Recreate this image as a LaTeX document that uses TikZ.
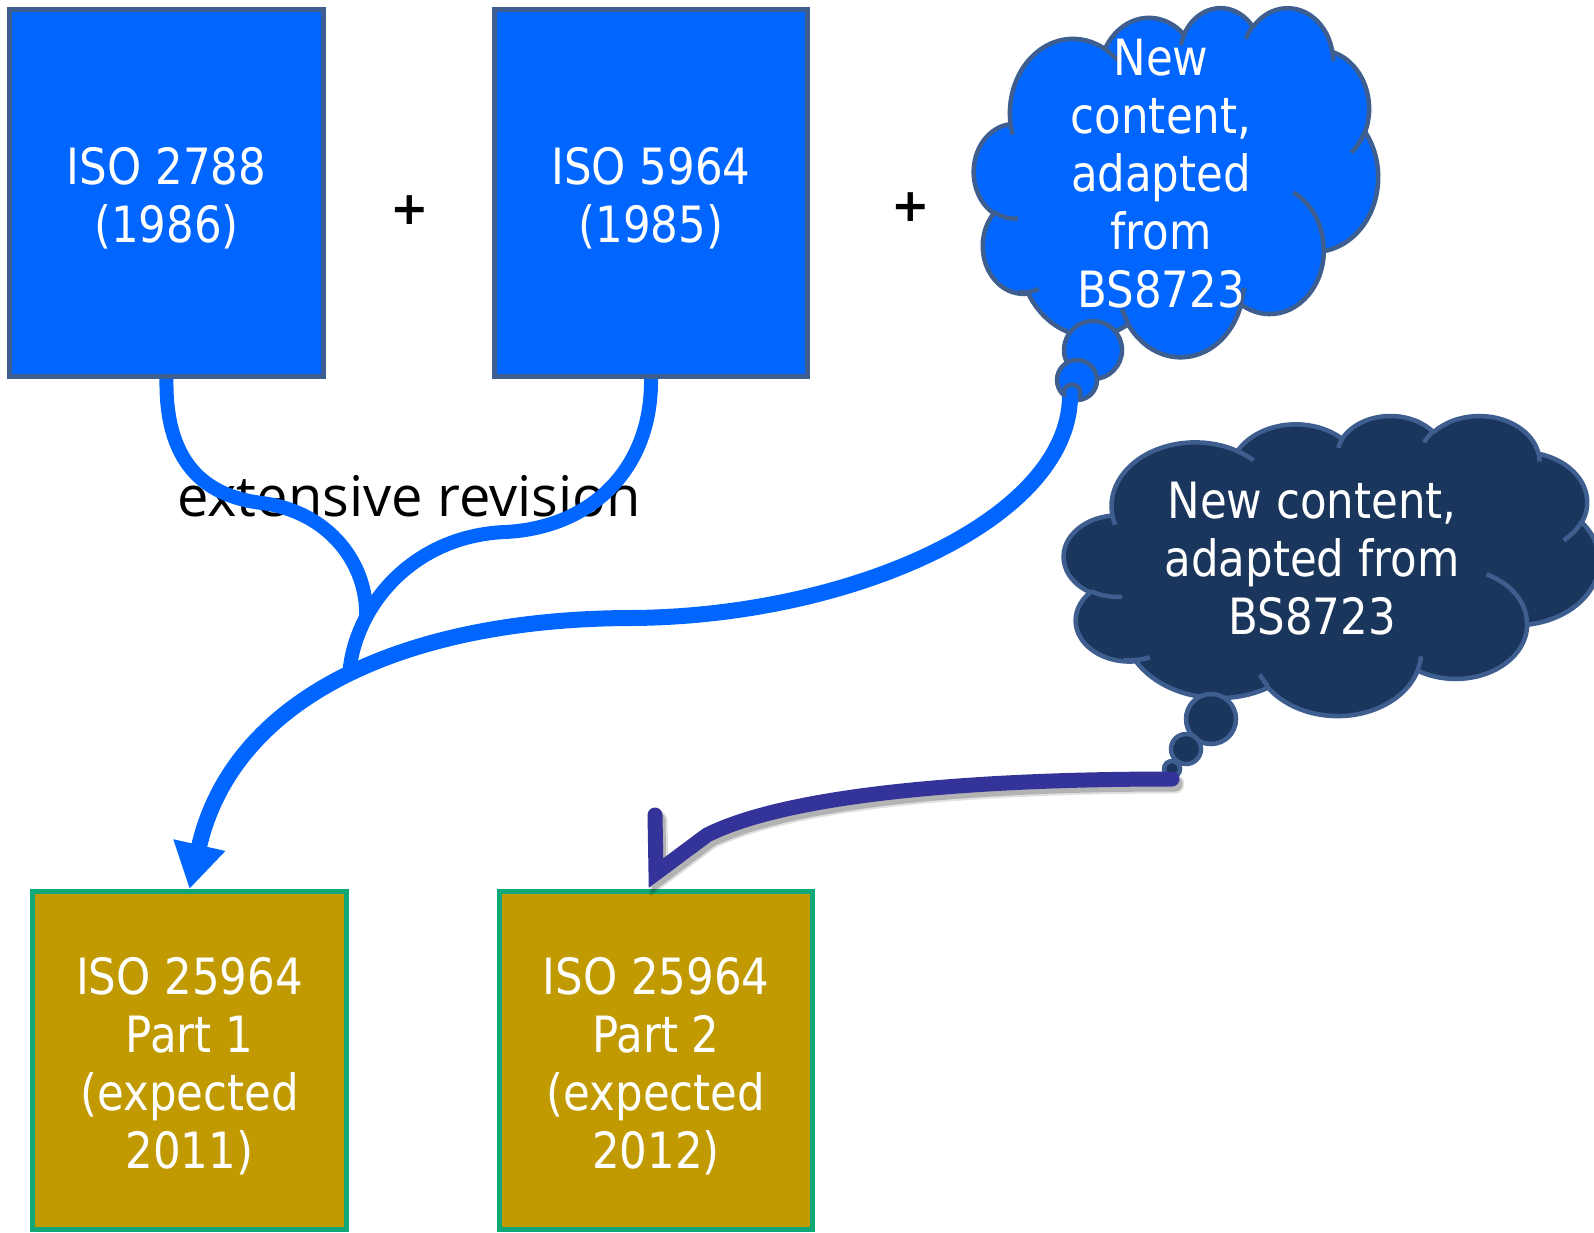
\documentclass[tikz,border=0pt]{standalone}
\usepackage{fontspec}
\usetikzlibrary{arrows.meta}
\newfontfamily\boxfont[FakeStretch=0.87]{DejaVu Sans}
\newfontfamily\plusfont{DejaVu Sans}
\newfontfamily\notefont{Open Sans}
\definecolor{stdblue}{RGB}{0,102,255}
\definecolor{edgeblue}{RGB}{61,94,143}
\definecolor{deepnavy}{RGB}{27,54,93}
\definecolor{oldgold}{RGB}{192,154,0}
\definecolor{edgegreen}{RGB}{16,168,120}
\definecolor{arrowviolet}{RGB}{51,51,153}
\begin{document}
\begin{tikzpicture}[x=1pt, y=-1pt,
  % elliptical lobe: radii and visual start/sweep angles (y pointing down)
  declare function={
    pang(\angA,\rw,\rh)=atan2(\rw*sin(\angA),\rh*cos(\angA));
    dang(\angA,\swp,\rw,\rh)=pang(\angA+\swp,\rw,\rh)-pang(\angA,\rw,\rh)
      +360*round((\swp-pang(\angA+\swp,\rw,\rh)+pang(\angA,\rw,\rh))/360);
  },
  lobe/.style n args={4}{insert path={
    arc[start angle={-pang(#3,#1,#2)}, delta angle={-dang(#3,#4,#1,#2)},
        x radius={#1*\csx pt}, y radius={#2*\csy pt}]}},
  stdbox/.style={rectangle, inner sep=0pt, line width=5pt},
  oldbox/.style={stdbox, fill=stdblue, draw=edgeblue},
  newbox/.style={stdbox, fill=oldgold, draw=edgegreen},
  boxtext/.style={text=white, align=center, inner sep=0pt,
    font=\boxfont\fontsize{50}{58}\selectfont},
  plussign/.style={inner sep=0pt, font=\plusfont\bfseries\fontsize{46}{50}\selectfont},
  bubble/.style={line width=4.5pt},
  flow/.style={draw=stdblue, line width=14pt},
  mainflow/.style={draw=stdblue, line width=16pt},
  partflow/.style={draw=arrowviolet, line width=15pt, line cap=round, miter limit=10},
]
\useasboundingbox (0,0) rectangle (1594,1232);
\fill[white] (0,0) rectangle (1594,1232);

% source standards
\node[oldbox, minimum width=314pt, minimum height=367pt] (box1) at (166.5,193) {};
\node[oldbox, minimum width=313pt, minimum height=367pt] (box2) at (651,193) {};
\node[boxtext] (box1txt) at (166.5,198) {ISO 2788\\(1986)};
\node[boxtext] (box2txt) at (651,198) {ISO 5964\\(1985)};
\node[plussign] (plus1) at (410,210) {+};
\node[plussign] (plus2) at (911,207) {+};

% resulting parts
\node[newbox, minimum width=314pt, minimum height=338pt] (box3) at (189.5,1060.5) {};
\node[newbox, minimum width=313pt, minimum height=338pt] (box4) at (656,1060.5) {};
\node[boxtext] (box3txt) at (189.5,1066) {ISO 25964\\Part 1\\(expected\\2011)};
\node[boxtext] (box4txt) at (656,1066) {ISO 25964\\Part 2\\(expected\\2012)};

% thought cloud outline and inner creases (43200-unit grid, scaled by 1/100)
\newcommand\cloudbody[2]{%
  \path[fill=#1, draw=#2, line width=4.5pt, line join=round]
    (39.00,143.70)
    [lobe={67.53}{91.90}{-190.48748}{123.78053}]
    [lobe={53.33}{72.67}{-144.10238}{89.94523}]
    [lobe={43.65}{59.45}{-145.80792}{99.72302}]
    [lobe={48.57}{65.95}{-130.98607}{117.24173}]
    [lobe={53.33}{72.73}{-78.70888}{109.02692}]
    [lobe={67.75}{92.20}{-46.26725}{130.269}]
    [lobe={57.85}{78.67}{0.62502}{114.03333}]
    [lobe={67.52}{92.15}{22.4516}{115.17255}]
    [lobe={77.20}{105.43}{66.24263}{75.71102}]
    [lobe={43.60}{59.18}{-274.94208}{146.73557}]
    [lobe={43.45}{59.45}{-246.8285}{152.51885}] -- cycle;
  \draw[#2, line width=4.5pt]
    (46.93,261.77) [lobe={43.45}{59.45}{86.742}{26.4295}]
    (69.28,348.99) [lobe={43.60}{59.18}{73.61047}{21.40658}]
    (164.78,390.90) [lobe={67.52}{92.15}{137.62415}{14.08322}]
    (288.27,347.51) [lobe={67.52}{92.15}{6.45327}{15.99835}]
    (341.29,229.54) [lobe={57.85}{78.67}{-70.29235}{70.91737}]
    (417.98,153.54) [lobe={53.33}{72.73}{30.31803}{27.7515}]
    (383.24,54.26) [lobe={48.57}{65.95}{-13.74433}{14.86042}]
    (290.78,39.52) [lobe={48.57}{65.95}{-149.18145}{18.19588}]
    (221.41,47.20) [lobe={43.65}{59.45}{-163.49427}{17.84925}]
    (140.00,51.92) [lobe={67.53}{91.90}{-66.70695}{12.31935}]
    (41.27,157.89) [lobe={67.53}{91.90}{157.65435}{11.85817}];
}

\begin{scope}[shift={(974,7)}, x=0.9352pt, y=-0.8079pt]
  \def\csx{0.9352}\def\csy{0.8079}
  \cloudbody{stdblue}{edgeblue}
\end{scope}
\draw[bubble, fill=stdblue, draw=edgeblue] (1093,350) circle[radius=29pt];
\draw[bubble, fill=stdblue, draw=edgeblue] (1077,380) circle[radius=20pt];
\draw[bubble, fill=stdblue, draw=edgeblue] (1072,393) circle[radius=8.5pt];
\node[boxtext] (cloud1txt) at (1161,174) {New\\content,\\adapted\\from\\BS8723};

\begin{scope}[shift={(1064,415)}, x=1.2384pt, y=-0.6944pt]
  \def\csx{1.2384}\def\csy{0.6944}
  \cloudbody{deepnavy}{edgeblue}
\end{scope}
\draw[bubble, fill=deepnavy, draw=edgeblue] (1211,719) circle[radius=25pt];
\draw[bubble, fill=deepnavy, draw=edgeblue] (1186,749) circle[radius=15pt];
\draw[bubble, fill=deepnavy, draw=edgeblue] (1172,769) circle[radius=8pt];
\node[boxtext] (cloud2txt) at (1312,559) {New content,\\adapted from\\BS8723};

% connector label
\node[anchor=base west, inner sep=0pt, font=\notefont\fontsize{56}{60}\selectfont]
  (revision) at (177,516) {extensive revision};

% connector end points
\coordinate (tail1) at (1070,397);
\coordinate (tail2) at (1172,779);
\coordinate (knee) at (707,835);
\coordinate (barb) at (655,815);
\coordinate (joinAB) at (366,617);
\coordinate (joinBC) at (349,678);

% merging flows into part 1
\draw[flow] (box1.south) .. controls (165,470) and (212,497) .. (262,503)
  .. controls (330,512) and (368,565) .. (joinAB);
\draw[flow] (box2.south) .. controls (652,470) and (590,528) .. (505,532)
  .. controls (410,536) and (352,610) .. (joinBC);
\draw[mainflow, -{Triangle[width=50pt,length=45pt]}] (tail1)
  .. controls (1068,520) and (850,617) .. (630,618)
  .. controls (400,619) and (232,700) .. (box3.north);

% flow into part 2, with its soft shadow
\begin{scope}[transform canvas={shift={(3pt,-5pt)}}]
  \draw[partflow, draw=black, opacity=0.12, line width=19pt] (tail2)
    .. controls (960,779) and (785,796) .. (knee) -- ([yshift=16pt]box4.north) -- (barb);
  \draw[partflow, draw=black, opacity=0.2] (tail2)
    .. controls (960,779) and (785,796) .. (knee) -- ([yshift=16pt]box4.north) -- (barb);
\end{scope}
\draw[partflow] (tail2)
  .. controls (960,779) and (785,796) .. (knee) -- ([yshift=16pt]box4.north) -- (barb);
\end{tikzpicture}
\end{document}
